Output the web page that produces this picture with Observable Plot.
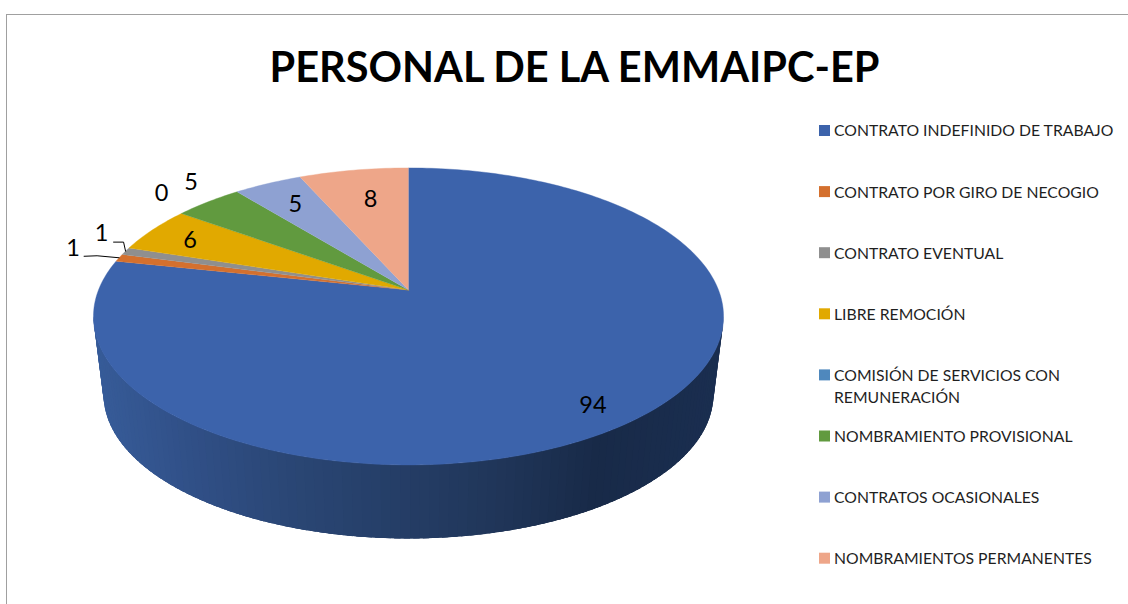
<!DOCTYPE html>
<html lang="es">
<head>
<meta charset="utf-8">
<title>PERSONAL DE LA EMMAIPC-EP</title>
<script src="https://cdn.jsdelivr.net/npm/d3@7"></script>
<script src="https://cdn.jsdelivr.net/npm/@observablehq/plot@0.6"></script>
<style>
  html, body { margin: 0; padding: 0; background: #fff; }
  svg { display: block; }
</style>
</head>
<body>
<div id="chart"></div>
<script>
const chartTitle = "PERSONAL DE LA EMMAIPC-EP";
const categories = [
  "CONTRATO INDEFINIDO DE TRABAJO",
  "CONTRATO POR GIRO DE NECOGIO",
  "CONTRATO EVENTUAL",
  "LIBRE REMOCIÓN",
  "COMISIÓN DE SERVICIOS CON\nREMUNERACIÓN",
  "NOMBRAMIENTO PROVISIONAL",
  "CONTRATOS OCASIONALES",
  "NOMBRAMIENTOS PERMANENTES"
];
const values = [94, 1, 1, 6, 0, 5, 5, 8];
const colors = ["#3c63ab", "#d4702e", "#8f8f8f", "#e1a900", "#4f88bd", "#619a3f", "#8ea1d2", "#eea689"];

// Label placement, in pixels from the rim point at each slice's middle angle.
const labelOffsets = [[-42, -14], [-46, -9], [-24, -18], [37, 11], [-20, -20], [-17, -19], [27.5, 20.5], [17, 29]];

// Perspective pie geometry.
const W = 1128, H = 604;
const apex = {x: 408, y: 289.5}, radiusX = 310, radiusY = 143.8, tilt = 0.178;
const wallDrop = 79.2, wallShrink = 0.968;

function project(deg, level = 0, r = 1) {
  const t = deg * Math.PI / 180;
  const w = 1 + tilt * r * Math.cos(t);
  const s = level ? wallShrink : 1;
  return {
    x: apex.x + s * radiusX * r * Math.sin(t) / w,
    y: apex.y + level * wallDrop - s * radiusY * r * Math.cos(t) / w
  };
}

const total = d3.sum(values);
let running = 0;
const slices = values.map((v, i) => {
  const a0 = running / total * 360;
  running += v;
  return {i, value: v, a0, a1: running / total * 360, mid: (a0 + running / total * 360) / 2};
});

const wallShade = d3.scaleLinear()
  .domain([95, 200, 300, 400, 500, 600, 720])
  .range(["#375c99", "#304f86", "#2a4674", "#253e67", "#203659", "#182a48", "#1a2e50"]);

// Side wall: overlapping strips between the upper and lower rim, painted from
// the right silhouette to the left one so each strip covers its neighbour's seam.
const wallPoints = [];
const silhouette = Math.acos(-tilt) * 180 / Math.PI;
for (let a = silhouette; a < 360 - silhouette; a += 1.5) {
  const b = Math.min(a + 4, 360 - silhouette);
  const p = [project(a), project(b), project(b, 1), project(a, 1)];
  const color = wallShade((p[0].x + p[3].x) / 2);
  p.forEach(q => wallPoints.push({id: `w${a}`, x: q.x, y: q.y, color}));
}

// Top face of each slice, traced from the values.
const capPoints = [];
slices.filter(s => s.value > 0).forEach(s => {
  capPoints.push({id: `c${s.i}`, x: apex.x, y: apex.y, color: colors[s.i]});
  const steps = Math.max(2, Math.ceil(s.a1 - s.a0));
  for (let j = 0; j <= steps; j++) {
    const q = project(s.a0 + (s.a1 - s.a0) * j / steps);
    capPoints.push({id: `c${s.i}`, x: q.x, y: q.y, color: colors[s.i]});
  }
});

const labels = slices.map(s => {
  const rim = project(s.mid);
  return {text: String(s.value), x: rim.x + labelOffsets[s.i][0], y: rim.y + labelOffsets[s.i][1], rim};
});

// Leader lines for the two thin slices.
const leaders = [
  {l: labels[1], start: [11, 7.5], elbow: [24, 7]},
  {l: labels[2], start: [12, 9], elbow: [22, 9]}
].flatMap((o, n) => [
  {id: n, x: o.l.x + o.start[0], y: o.l.y + o.start[1]},
  {id: n, x: o.l.x + o.elbow[0], y: o.l.y + o.elbow[1]},
  {id: n, x: o.l.rim.x, y: o.l.rim.y}
]);

const legendTop = 130.5, legendStep = 61.1, swatch = 11, swatchX = 819, legendTextX = 833.5;
const legend = categories.map((name, i) => ({name, color: colors[i], y: legendTop + i * legendStep}));

const chart = Plot.plot({
  width: W,
  height: H,
  margin: 0,
  style: {fontFamily: "Lato, sans-serif", background: "#fff", overflow: "hidden"},
  x: {domain: [0, W], range: [0, W], axis: null},
  y: {domain: [0, H], range: [0, H], axis: null},
  color: {type: "identity"},
  marks: [
    Plot.ruleY([14], {x1: 6, x2: W, stroke: "#a0a0a0", strokeWidth: 1}),
    Plot.ruleX([6], {y1: 14, y2: H, stroke: "#a0a0a0", strokeWidth: 1}),
    Plot.text([chartTitle], {x: 574, y: 68, text: d => d, fontSize: 41.5, fontWeight: 700, fill: "#000", textAnchor: "middle", lineAnchor: "middle"}),
    Plot.line(wallPoints, {x: "x", y: "y", z: "id", fill: "color", stroke: "none", curve: "linear"}),
    Plot.line(capPoints, {x: "x", y: "y", z: "id", fill: "color", stroke: "color", strokeWidth: 0.4, curve: "linear"}),
    Plot.line(leaders, {x: "x", y: "y", z: "id", stroke: "#000", strokeWidth: 1, curve: "linear"}),
    Plot.text(labels, {x: "x", y: "y", text: "text", fontSize: 23.5, fill: "#000", textAnchor: "middle", lineAnchor: "middle"}),
    Plot.rect(legend, {x1: swatchX, x2: swatchX + swatch, y1: d => d.y - swatch / 2, y2: d => d.y + swatch / 2, fill: "color"}),
    Plot.text(legend, {x: legendTextX, y: d => d.y - 10.2, text: "name", fill: "#1f1f1f", fontSize: 15.75, lineHeight: 1.4, textAnchor: "start", lineAnchor: "top"})
  ]
});
document.getElementById("chart").appendChild(chart);
</script>
</body>
</html>
